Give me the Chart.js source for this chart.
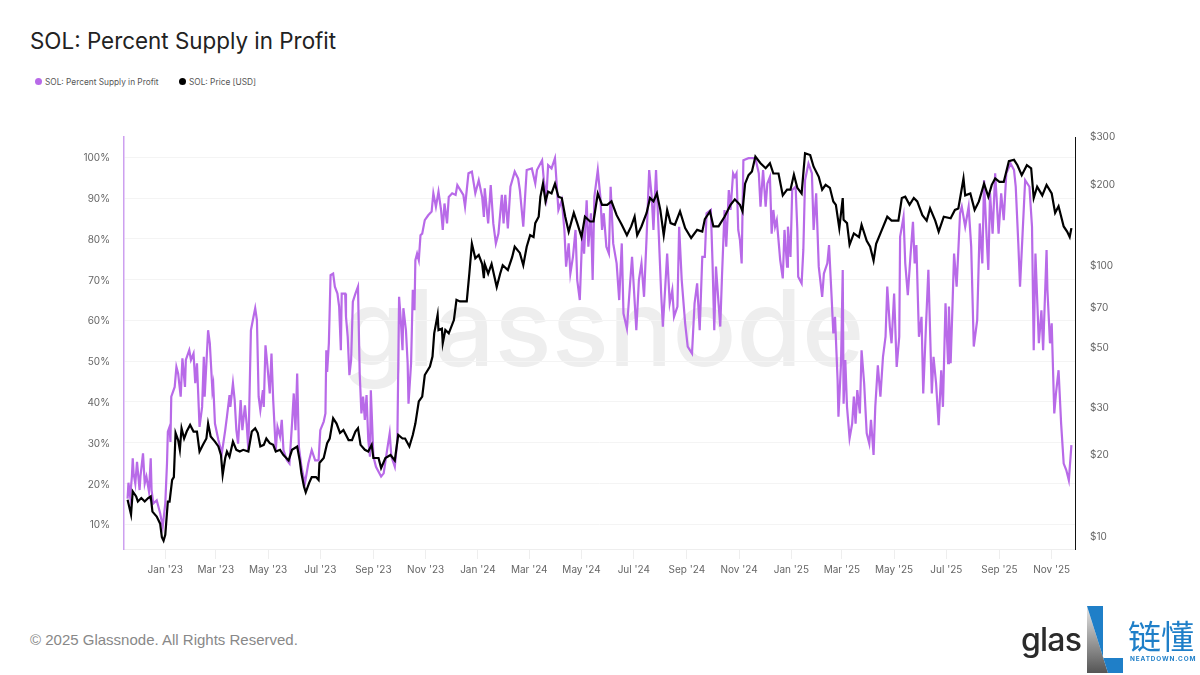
<!DOCTYPE html>
<html>
<head>
<meta charset="utf-8">
<title>SOL: Percent Supply in Profit</title>
<script src="https://cdn.jsdelivr.net/npm/chart.js@4/dist/chart.umd.min.js"></script>
<style>
  html, body { margin: 0; padding: 0; background: #fff; width: 1200px; height: 675px; overflow: hidden; font-family: Inter, sans-serif; }
  canvas { position: absolute; left: 0; top: 0; z-index: 1; }
  .abs { position: absolute; white-space: nowrap; }
  #title { left: 30px; top: 26px; font-size: 22.4px; line-height: 30px; color: #222; }
  .legend { top: 76px; font-size: 8.3px; line-height: 13px; color: #555; }
  .dot { top: 78px; width: 7px; height: 7px; border-radius: 50%; }
  #watermark { left: 342px; top: 268px; font-size: 106px; line-height: 120px; font-weight: 500; color: #eeeeee; z-index: 0; font-family: Inter, sans-serif; }
  #footer { left: 30px; top: 631px; font-size: 15px; line-height: 18px; color: #888; font-family: "Liberation Sans", sans-serif; }
  #glas { left: 1021px; top: 620px; font-size: 32px; line-height: 40px; font-weight: 500; color: #2b2b2b; font-family: Inter, sans-serif; letter-spacing: -0.8px; z-index: 2; }
  #brand { left: 1128px; top: 616px; font-size: 33px; line-height: 38px; color: #1f7fc8; font-family: "Noto Sans CJK SC", sans-serif; z-index: 2; }
  #brandSub { left: 1130px; top: 654px; font-size: 6.4px; line-height: 10px; color: #1f7fc8; font-weight: 700; letter-spacing: 0.9px; font-family: Inter, sans-serif; z-index: 2; }
  #logo { position: absolute; left: 1080px; top: 600px; z-index: 2; }
</style>
</head>
<body>
<div class="abs" id="title">SOL: Percent Supply in Profit</div>
<div class="abs dot" style="left:35px;background:#b86ae8"></div>
<div class="abs legend" style="left:45px">SOL: Percent Supply in Profit</div>
<div class="abs dot" style="left:179px;background:#000"></div>
<div class="abs legend" style="left:189px">SOL: Price [USD]</div>
<div class="abs" id="watermark">glassnode</div>
<canvas id="chart" width="1200" height="675"></canvas>
<div class="abs" id="footer">© 2025 Glassnode. All Rights Reserved.</div>
<div class="abs" id="glas">glas</div>
<svg id="logo" width="50" height="75">
  <defs><linearGradient id="lg" x1="0" y1="0" x2="0" y2="1"><stop offset="0" stop-color="#e6e6e6"/><stop offset="1" stop-color="#555"/></linearGradient></defs>
  <polygon points="7,6 7,73 28,73" fill="url(#lg)"/>
  <polygon points="7,6 23,6 23,58 43,58 43,73 28,73" fill="#1f7fc8"/>
</svg>
<div class="abs" id="brand">链懂</div>
<div class="abs" id="brandSub">NEATDOWN.COM</div>

<script>
// days counted from 1 Jan 2023
const tickDays = [0, 59, 120, 181, 243, 304, 365, 425, 486, 547, 609, 670, 731, 790, 851, 912, 974, 1035];
const tickLabels = ["Jan '23", "Mar '23", "May '23", "Jul '23", "Sep '23", "Nov '23", "Jan '24", "Mar '24", "May '24", "Jul '24", "Sep '24", "Nov '24", "Jan '25", "Mar '25", "May '25", "Jul '25", "Sep '25", "Nov '25"];
const supplyTicks = [10, 20, 30, 40, 50, 60, 70, 80, 90, 100];
const priceTicks = [10, 20, 30, 50, 70, 100, 200, 300];

const supplyDays = [
  -44,-43,-41,-39,-38,-37,-35,-33,-30,-29,-26,-24,-22,-19,-17,-16,-14,-10,-6,-3,0,2,3,5,6,7,11,13,15,18,20,23,24,28,30,33,35,37,40,43,45,46,50,52,55,56,58,62,66,70,72,75,76,79,81,83,85,88,90,93,95,97,
  100,103,105,107,109,111,114,115,117,119,122,124,126,129,131,134,136,138,142,145,148,150,152,154,156,159,163,167,171,175,179,181,185,187,188,189,191,193,196,198,201,203,205,206,210,211,213,215,217,219,222,225,227,229,231,233,235,237,239,240,243,246,252,255,259,262,264,268,271,273,275,277,278,281,283,284,287,289,291,292,294,296,298,300,303,307,311,313,316,319,322,324,326,329,331,335,339,341,
  348,350,354,358,362,366,370,372,373,377,380,383,386,389,393,395,397,400,403,408,412,414,418,422,428,432,434,440,442,445,447,451,455,459,463,466,468,471,473,476,479,481,484,487,489,492,494,497,499,501,505,508,510,512,515,518,520,523,527,530,533,535,539,543,545,550,553,556,559,562,565,568,570,573,576,579,581,584,586,589,592,594,598,600,603,607,610,615,618,621,624,627,630,632,637,639,641,643,646,648,650,653,655,658,660,663,665,667,669,671,673,675,681,
  689,693,695,698,701,703,706,708,710,712,714,716,718,721,723,726,727,730,732,736,738,739,743,745,747,751,755,757,760,763,767,769,773,775,778,780,782,785,786,789,791,792,794,796,799,802,804,806,808,811,813,816,819,822,824,827,829,832,835,838,841,843,846,848,851,854,857,858,862,864,867,870,873,875,877,880,883,885,888,891,895,897,900,903,906,908,911,914,915,917,919,921,924,928,930,934,938,941,944,948,951,954,956,959,961,963,966,969,973,976,979,982,987,991,993,996,998,1001,1004,1009,1012,1014,1016,1020,1023,1025,1029,1030,1033,1035,1038,1040,1043,1046,1049,1052,1055,1058
];
const supplyValues = [
  16.3,20.2,16.8,21.7,26.2,22.5,20,25.3,18.4,21.7,27.4,20,21.7,18,26.2,18.4,15.1,15.9,12.7,9.4,15.1,24.9,32.7,33.9,30.2,41.3,43.7,48.6,47,41.3,50.7,43.7,50.3,52.7,50.3,51.9,44.6,49.5,33.9,38.8,51.1,41.3,57.6,54.4,42.9,44.2,34.7,30.7,27.4,33.1,36.4,41.7,38.8,44.6,40.5,33.1,29.8,40.5,33.1,39.2,34.7,28.2,
  57.6,60.9,63,60.1,41.3,38,42.9,38.8,53.9,49.5,42.1,51.9,40.5,28.2,33.9,31.5,35.6,28.2,25.7,24.9,34.7,42.1,33.1,47,29,24.1,20,24.9,28.2,25.7,25.7,33.1,35.2,37.2,52.7,47.4,54.4,71.1,71.5,68.3,66.6,63.4,52.7,66.6,66.6,60.9,56,46.6,50.3,64.6,66.6,68.3,47,37.2,41.3,35.6,41.7,30.7,26.6,42.9,26.6,24.1,21.7,22.5,28.2,32.3,26.6,24.1,30.7,65.8,60.1,52.7,63,57.6,49.5,39.6,49.5,67.5,62.5,74.8,76.4,74.8,80.9,81.3,84.6,85.8,86.7,91.2,87.9,91.6,87.1,82.2,88.7,83.8,90.3,91.2,90.8,93.2,
  90.8,87.9,96.1,96.5,91.2,94.4,90.3,85.4,92.4,83.8,93.2,83.8,78.9,81.3,90.8,83.8,90.8,82.6,92.8,96.5,94.8,92,83,96.9,97.3,93.6,96.9,99.3,94.4,90.3,98.1,97.3,99.8,87.1,89.5,82.2,73.2,78.9,71.5,75.6,82.2,69.9,65,82.2,76.4,89.5,78.1,86.3,69.9,90.3,96.9,90.3,82.2,86.3,78.1,76.4,92.8,78.9,74,65,78.9,61.7,58,69.9,75.6,57.6,69.9,74,65.8,80.5,96.9,90.3,82.2,96.9,82.2,66.6,58.5,69.1,76.4,64.2,67.5,60.9,63.4,83,69.9,59.3,53.6,51.9,64.2,69.1,57.6,75.6,75.6,86.3,87.1,74,57.6,73.2,64.2,58.5,70.7,87.1,78.1,92,87.1,96.1,95.2,96.1,82.2,79.7,74,99.3,99.8,
  99.8,96.1,87.9,96.9,87.9,93.6,95.2,81.3,87.1,83,84.6,79.7,74.8,70.3,82.2,73.2,83,75.6,92,92.8,82.2,70.7,69.1,77.3,94.4,98.5,96.1,82.2,91.2,73.2,65.8,71.5,74,78.5,65.8,56.8,60.9,45.4,36.4,49.5,72.4,39.6,50.3,38.8,31.1,34.7,41.3,34.7,42.9,37.2,52.7,44.6,32.3,29.8,35.6,27,38.8,49,41.3,51.1,56,68.3,58.5,54.4,66.6,48.6,56,80.5,85.4,74,66.2,75.6,84.2,74,78.5,56,60.9,42.1,57.6,72.4,42.1,51.1,44.6,34.3,47.8,38.8,64.2,49.5,63.4,49.5,62.5,76.4,68.3,86.3,87.9,83,87.9,78.1,53.6,60.1,83.8,74,94.4,80.5,72.4,91.2,81.3,96.1,81.3,91.2,84.6,96.1,98.5,96.9,92.8,78.9,68.3,81.3,94.4,92.8,83,52.7,76.4,54.4,62.5,52.7,77.3,67.5,54.4,59.3,37.2,42.1,47.8,34.7,24.9,23.3,20.8,29.4
];

const priceDays = [
  -44,-40,-38,-34,-32,-28,-24,-20,-17,-15,-10,-6,-4,-2,0,3,5,8,10,12,15,17,19,22,25,29,33,37,40,44,48,50,53,58,62,65,67,70,72,75,79,83,87,91,97,
  101,105,108,111,115,118,122,126,129,134,138,144,148,154,157,159,162,164,168,171,176,179,180,185,189,192,196,200,204,208,214,218,222,225,228,233,237,241,243,249,252,257,263,268,272,277,280,285,289,292,296,300,303,309,312,314,318,319,323,324,327,331,337,340,344,
  348,352,355,358,362,366,370,372,373,377,381,387,391,394,400,405,408,414,418,422,426,430,432,436,438,441,444,447,451,455,459,463,467,471,477,481,486,490,496,500,505,510,516,521,527,533,539,544,548,551,556,562,566,570,574,578,582,586,590,595,601,607,614,621,627,630,636,640,646,653,660,665,671,674,677,681,685,689,
  695,701,706,710,716,721,726,730,734,738,743,747,753,757,763,767,771,776,780,783,787,791,792,796,799,804,810,813,819,823,827,830,835,843,848,856,860,864,869,874,878,884,889,893,899,903,909,917,922,926,932,934,940,945,950,956,961,965,969,974,979,985,991,995,1000,1006,1011,1014,1018,1024,1029,1035,1039,1043,1049,1053,1056,1058
];
const priceValues = [
  13.6,12,14.6,14,13.4,13.8,13.4,13.8,14,12.3,11.8,11.1,9.9,9.6,10.1,13.4,13.4,16.1,16.5,24,22.6,20.8,25,22.9,24.3,25.7,24.3,24.3,20.5,21.7,22.9,26,23.3,22.3,21.4,19.9,16.8,19.4,20.5,19.6,22.3,20.8,20.5,20.8,20.5,
  24.3,25,24,21.4,21.7,22.9,22,21.7,20.5,20.8,19.9,19,20.8,21.4,19,17,15.2,14.5,15.7,16.5,16.5,16.1,18.6,19.4,22,22.9,27.2,26,24,24.6,22.6,22.6,24.3,25,21.7,20.8,20.5,21.7,19.4,19.4,17.8,19.4,19.9,19,23.6,22.9,22.9,21.4,23.6,26,31.4,32.7,39.3,42.2,46,56,65.6,57.6,58.3,51.5,57.6,56,62.7,74.5,73.5,
  73.5,73.5,93,120,106,109,101,89.5,101,93,101,83,93,100,96,107,117,111,100,117,129,127,143,151,179,200,172,187,184,200,179,177,151,133,156,143,127,151,145,145,184,167,167,172,153,141,129,139,151,129,139,156,177,172,184,160,129,160,143,141,158,137,126,135,133,148,158,139,139,151,167,175,167,158,200,215,222,252,
  238,228,238,218,218,181,190,190,216,193,184,259,255,231,212,190,198,193,172,167,137,177,147,143,119,131,127,141,123,117,104,120,131,151,146,146,177,179,167,177,172,153,146,162,146,133,151,149,160,162,209,181,184,160,172,200,179,198,209,203,203,242,245,234,215,234,228,177,195,181,198,184,156,165,139,133,127,137
];

const pairs = (xs, ys) => xs.map((x, i) => ({ x, y: ys[i] }));

new Chart(document.getElementById("chart"), {
  type: "line",
  data: {
    datasets: [
      { label: "SOL: Price [USD]", data: pairs(priceDays, priceValues), yAxisID: "yPrice", borderColor: "#000", borderWidth: 2.2, pointRadius: 0, tension: 0, order: 0 },
      { label: "SOL: Percent Supply in Profit", data: pairs(supplyDays, supplyValues), yAxisID: "ySupply", borderColor: "#b86ae8", borderWidth: 2.2, pointRadius: 0, tension: 0, order: 1 }
    ]
  },
  options: {
    responsive: false,
    animation: false,
    layout: { padding: { top: 137 } },
    plugins: { legend: { display: false }, title: { display: false }, tooltip: { enabled: false } },
    scales: {
      x: {
        type: "linear",
        min: -48.2,
        max: 1062.2,
        afterFit: s => { s.height = 126; },
        afterBuildTicks: s => { s.ticks = tickDays.map(value => ({ value })); },
        grid: { drawOnChartArea: false, drawTicks: true, tickLength: 10, color: "#eeeeee" },
        border: { color: "#eeeeee" },
        ticks: {
          autoSkip: false,
          maxRotation: 0,
          padding: 5,
          color: "#666",
          font: { family: "Inter", size: 10 },
          callback: v => tickLabels[tickDays.indexOf(v)]
        }
      },
      ySupply: {
        position: "left",
        min: 3.94,
        max: 105,
        afterFit: s => { s.width = 124; },
        afterBuildTicks: s => { s.ticks = supplyTicks.map(value => ({ value })); },
        grid: { color: "#f4f4f4", drawTicks: false },
        border: { color: "#cda0f0", width: 1.5 },
        ticks: { padding: 14, labelOffset: 1, color: "#666", font: { family: "Inter", size: 10 }, callback: v => v + "%" }
      },
      yPrice: {
        type: "logarithmic",
        position: "right",
        min: 8.95,
        max: 297.4,
        afterFit: s => { s.width = 125; },
        afterBuildTicks: s => { s.ticks = priceTicks.map(value => ({ value })); },
        grid: { drawOnChartArea: false, drawTicks: false },
        border: { color: "#111", width: 1 },
        ticks: { padding: 15, labelOffset: 1, color: "#666", font: { family: "Inter", size: 10 }, callback: v => "$" + v }
      }
    }
  }
});
</script>
</body>
</html>
